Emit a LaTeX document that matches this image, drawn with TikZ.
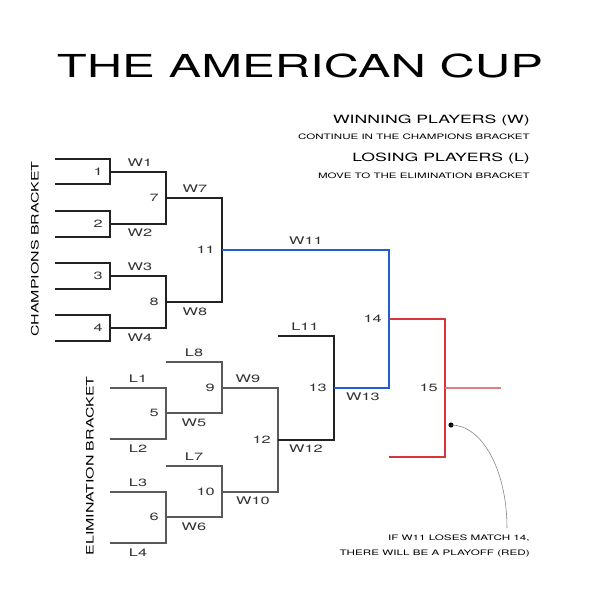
\documentclass[tikz,border=0pt]{standalone}
\usepackage{fontspec}
\setmainfont{TeX Gyre Heros}[FakeStretch=1.55]
\usetikzlibrary{positioning}
\definecolor{champline}{HTML}{222222}
\definecolor{elimline}{HTML}{5A5A5A}
\definecolor{labeltext}{HTML}{333333}
\definecolor{cupblue}{HTML}{1F5FD0}
\definecolor{cupred}{HTML}{D8343C}
\definecolor{cuppink}{HTML}{E27D85}
\tikzset{
  champ/.style={line width=0.9pt, draw=champline},
  elim/.style={line width=0.9pt, draw=elimline},
  tag/.style={font=\fontsize{7.5}{9}\selectfont, text=labeltext, inner sep=0pt},
  num/.style={tag, anchor=east},
  headline/.style={font=\fontsize{8.1}{10}\selectfont, anchor=east, inner sep=0pt},
  subline/.style={font=\fontsize{5.3}{7}\selectfont, anchor=east, inner sep=0pt},
  sidelabel/.style={font=\fontsize{7.3}{9}\selectfont, rotate=90, inner sep=0pt},
}

\begin{document}
\begin{tikzpicture}[x=0.025cm, y=-0.025cm]
\useasboundingbox (0,0) rectangle (600,600);

\node[font=\fontsize{22.5}{26}\selectfont, inner sep=0pt] (title) at (300,66) {THE AMERICAN CUP};

\node[headline] (winhead) at (530,120) {WINNING PLAYERS (W)};
\node[subline] (winsub) at (530,137) {CONTINUE IN THE CHAMPIONS BRACKET};
\node[headline] (losehead) at (530,158) {LOSING PLAYERS (L)};
\node[subline] (losesub) at (530,176) {MOVE TO THE ELIMINATION BRACKET};

\node[sidelabel] (champlabel) at (35,249) {CHAMPIONS BRACKET};
\node[sidelabel] (elimlabel) at (90,466) {ELIMINATION BRACKET};

% match junctions
\coordinate (j1) at (110,172);
\coordinate (j2) at (110,224);
\coordinate (j3) at (110,276);
\coordinate (j4) at (110,328);
\coordinate (j5) at (166,413);
\coordinate (j6) at (166,517);
\coordinate (j7) at (166,198);
\coordinate (j8) at (166,302);
\coordinate (j9) at (222,388);
\coordinate (j10) at (222,492);
\coordinate (j11) at (222,250);
\coordinate (j12) at (278,440);
\coordinate (j13) at (334,388);
\coordinate (j14) at (389,319);
\coordinate (j15) at (445,388);

% free ends
\coordinate (p1a) at (55,159);
\coordinate (p1b) at (55,184);
\coordinate (p2a) at (55,211);
\coordinate (p2b) at (55,237);
\coordinate (p3a) at (55,263);
\coordinate (p3b) at (55,289);
\coordinate (p4a) at (55,315);
\coordinate (p4b) at (55,341);
\coordinate (l1) at (110,388);
\coordinate (l2) at (110,439);
\coordinate (l3) at (110,492);
\coordinate (l4) at (110,543);
\coordinate (l8) at (166,362);
\coordinate (l7) at (166,466);
\coordinate (l11) at (278,336);
\coordinate (playoff) at (389,457);
\coordinate (final) at (501,388);
\coordinate (dot) at (451,425);
\coordinate (notetip) at (507,528);

\node[num, left=5pt of j1] (n1) {1};
\node[num, left=5pt of j2] (n2) {2};
\node[num, left=5pt of j3] (n3) {3};
\node[num, left=5pt of j4] (n4) {4};
\node[num, left=5pt of j5] (n5) {5};
\node[num, left=5pt of j6] (n6) {6};
\node[num, left=5pt of j7] (n7) {7};
\node[num, left=5pt of j8] (n8) {8};
\node[num, left=5pt of j9] (n9) {9};
\node[num, left=5pt of j10] (n10) {10};
\node[num, left=5pt of j11] (n11) {11};
\node[num, left=5pt of j12] (n12) {12};
\node[num, left=5pt of j13] (n13) {13};
\node[num, left=5pt of j14] (n14) {14};
\node[num, left=5pt of j15] (n15) {15};

\node[tag] (tw1) at (140,163) {W1};
\node[tag] (tw2) at (140,233) {W2};
\node[tag] (tw3) at (140,267) {W3};
\node[tag] (tw4) at (140,338) {W4};
\node[tag] (tw7) at (195,189) {W7};
\node[tag] (tw8) at (195,312) {W8};
\node[tag] (tw11) at (306,241) {W11};
\node[tag] (tl1) at (138,379) {L1};
\node[tag] (tl2) at (138,449) {L2};
\node[tag] (tl3) at (138,483) {L3};
\node[tag] (tl4) at (138,553) {L4};
\node[tag] (tl8) at (194,353) {L8};
\node[tag] (tw5) at (194,423) {W5};
\node[tag] (tl7) at (194,457) {L7};
\node[tag] (tw6) at (194,527) {W6};
\node[tag] (tw9) at (248,379) {W9};
\node[tag] (tw10) at (253,501) {W10};
\node[tag] (tl11) at (305,327) {L11};
\node[tag] (tw12) at (306,449) {W12};
\node[tag] (tw13) at (363,397) {W13};

\node[font=\fontsize{5.35}{10.6}\selectfont, align=right, anchor=north east, inner sep=0pt] (note) at (530,535) {IF W11 LOSES MATCH 14,\\THERE WILL BE A PLAYOFF (RED)};

\draw[champ] (p1a) -| (j1) |- (p1b);
\draw[champ] (p2a) -| (j2) |- (p2b);
\draw[champ] (p3a) -| (j3) |- (p3b);
\draw[champ] (p4a) -| (j4) |- (p4b);
\draw[champ] (j1) -| (j7) |- (j2);
\draw[champ] (j3) -| (j8) |- (j4);
\draw[champ] (j7) -| (j11) |- (j8);

\draw[elim] (l1) -| (j5) |- (l2);
\draw[elim] (l3) -| (j6) |- (l4);
\draw[elim] (l8) -| (j9) |- (j5);
\draw[elim] (l7) -| (j10) |- (j6);
\draw[elim] (j9) -| (j12) |- (j10);
\draw[champ] (l11) -| (j13) |- (j12);

\draw[line width=0.9pt, cupblue] (j11) -| (j14) |- (j13);
\draw[line width=0.9pt, cupred] (j14) -| (j15) |- (playoff);
\draw[line width=0.9pt, cuppink] (j15) -- (final);

\fill (dot) circle (1.8pt);
\draw[gray, line width=0.4pt] (dot) .. controls (482,425) and (507,470) .. (notetip);
\end{tikzpicture}
\end{document}
